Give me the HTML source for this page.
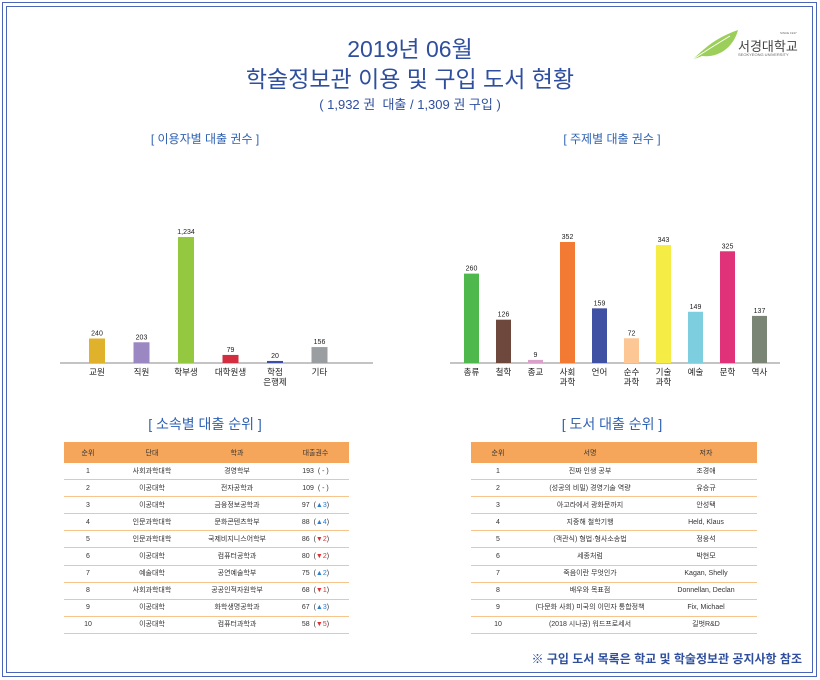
<!DOCTYPE html>
<html><head><meta charset="utf-8">
<style>
body{margin:0;width:820px;height:680px;background:#fff;font-family:"Liberation Sans","Noto Sans CJK KR",sans-serif;position:relative;overflow:hidden}
.b1{position:absolute;left:2px;top:2px;width:813px;height:673px;border:1.5px solid #4a66b8}
.b2{position:absolute;left:6px;top:6px;width:805px;height:665px;border:1.5px solid #4a66b8}
.t{position:absolute;left:0;width:820px;text-align:center;color:#2f4f9e}
.sec{position:absolute;color:#2f62b3;text-align:center}
table{position:absolute;border-collapse:collapse;font-size:7px;color:#333}
th{background:#f5a65b;height:21px;padding:0;font-weight:normal;color:#333}
td{height:16.1px;padding:0;border-bottom:1.5px solid #f8c48e;text-align:center;line-height:15px}
.up{color:#2a7fd0}.dn{color:#e03030}
</style></head><body>
<div class="b1"></div>
<div class="b2"></div>
<div class="t" style="top:30px;font-size:23px">2019년 06월</div>
<div class="t" style="top:60px;font-size:23px">학술정보관 이용 및 구입 도서 현황</div>
<div class="t" style="top:94px;font-size:13px">( 1,932 권&nbsp; 대출 / 1,309 권 구입 )</div>
<div style="position:absolute;left:690px;top:28px;width:120px;height:36px">
<svg width="50" height="34" viewBox="0 0 50 34"><path d="M2 32 C15 20 25 10 48 2 C44 18 30 30 12 28" fill="#9ccf5a"/><path d="M2 32 Q20 20 40 8" stroke="#fff" stroke-width="1" fill="none"/></svg>
<div style="position:absolute;left:48px;top:8px;font-size:13px;color:#444">서경대학교</div>
<div style="position:absolute;left:48px;top:24px;font-size:4px;color:#666">SEOKYEONG UNIVERSITY</div>
<div style="position:absolute;left:90px;top:3px;font-size:3px;color:#666">SINCE 1947</div>
</div>
<div class="sec" style="left:105px;top:130px;width:200px;font-size:12px">[ 이용자별 대출 권수 ]</div>
<div class="sec" style="left:512px;top:130px;width:200px;font-size:12px">[ 주제별 대출 권수 ]</div>
<svg id="c1" style="position:absolute;left:0;top:0" width="820" height="400"></svg>
<div class="sec" style="left:105px;top:414px;width:200px;font-size:14px">[ 소속별 대출 순위 ]</div>
<div class="sec" style="left:512px;top:414px;width:200px;font-size:14px">[ 도서 대출 순위 ]</div>
<table style="left:64px;top:442px;width:285px">
<tr><th style="width:48px">순위</th><th style="width:80px">단대</th><th style="width:90px">학과</th><th>대출권수</th></tr>
<tr><td>1</td><td>사회과학대학</td><td>경영학부</td><td>193 &nbsp;( - )</td></tr>
<tr><td>2</td><td>이공대학</td><td>전자공학과</td><td>109 &nbsp;( - )</td></tr>
<tr><td>3</td><td>이공대학</td><td>금융정보공학과</td><td>97 &nbsp;(<span class="up">▲3</span>)</td></tr>
<tr><td>4</td><td>인문과학대학</td><td>문화콘텐츠학부</td><td>88 &nbsp;(<span class="up">▲4</span>)</td></tr>
<tr><td>5</td><td>인문과학대학</td><td>국제비지니스어학부</td><td>86 &nbsp;(<span class="dn">▼2</span>)</td></tr>
<tr><td>6</td><td>이공대학</td><td>컴퓨터공학과</td><td>80 &nbsp;(<span class="dn">▼2</span>)</td></tr>
<tr><td>7</td><td>예술대학</td><td>공연예술학부</td><td>75 &nbsp;(<span class="up">▲2</span>)</td></tr>
<tr><td>8</td><td>사회과학대학</td><td>공공인적자원학부</td><td>68 &nbsp;(<span class="dn">▼1</span>)</td></tr>
<tr><td>9</td><td>이공대학</td><td>화학생명공학과</td><td>67 &nbsp;(<span class="up">▲3</span>)</td></tr>
<tr><td>10</td><td>이공대학</td><td>컴퓨터과학과</td><td>58 &nbsp;(<span class="dn">▼5</span>)</td></tr>
</table>
<table style="left:471px;top:442px;width:286px">
<tr><th style="width:54px">순위</th><th style="width:130px">서명</th><th>저자</th></tr>
<tr><td>1</td><td>진짜 인생 공부</td><td>조경애</td></tr>
<tr><td>2</td><td>(성공의 비밀) 경영기술 역량</td><td>유승규</td></tr>
<tr><td>3</td><td>아고라에서 광화문까지</td><td>안성택</td></tr>
<tr><td>4</td><td>지중해 철학기행</td><td>Held, Klaus</td></tr>
<tr><td>5</td><td>(객관식) 형법·형사소송법</td><td>정웅석</td></tr>
<tr><td>6</td><td>세종처럼</td><td>박현모</td></tr>
<tr><td>7</td><td>죽음이란 무엇인가</td><td>Kagan, Shelly</td></tr>
<tr><td>8</td><td>배우와 목표점</td><td>Donnellan, Declan</td></tr>
<tr><td>9</td><td>(다문화 사회) 미국의 이민자 통합정책</td><td>Fix, Michael</td></tr>
<tr><td>10</td><td>(2018 시나공) 워드프로세서</td><td>길벗R&amp;D</td></tr>
</table>
<div style="position:absolute;right:18px;top:650px;font-size:12px;font-weight:bold;color:#2f4f9e">※ 구입 도서 목록은 학교 및 학술정보관 공지사항 참조</div>
<script>
const userCats=["교원","직원","학부생","대학원생","학점\n은행제","기타"];
const userVals=[240,203,1234,79,20,156];
const userColors=["#e0b12a","#9b87c2","#94c840","#d22e40","#3a50a8","#9a9ea0"];
const subjCats=["총류","철학","종교","사회\n과학","언어","순수\n과학","기술\n과학","예술","문학","역사"];
const subjVals=[260,126,9,352,159,72,343,149,325,137];
const subjColors=["#4fb84c","#6e473d","#dca0cc","#f27a33","#3f51a3","#fdc795","#f5ec45","#7dcfdf","#df3278","#7a8576"];
const svg=document.getElementById('c1');
const NS="http://www.w3.org/2000/svg";
function mk(t,a){const e=document.createElementNS(NS,t);for(const k in a)e.setAttribute(k,a[k]);svg.appendChild(e);return e;}
function chart(cats,vals,cols,x0,step,bw,maxV,maxH,ax0,ax1,base,nm){
  const ax=mk('line',{x1:ax0,x2:ax1,y1:base,y2:base,stroke:'#888','stroke-width':1});
  
  
  const y=v=>v/maxV*maxH;
  cats.forEach((c,i)=>{
    const cx=x0+i*step,h=y(vals[i]);
    const r=mk('rect',{x:cx-bw/2,y:base-h,width:bw,height:h,fill:cols[i]});
    
    
    const t=mk('text',{x:cx,y:base-h-3,'text-anchor':'middle','font-size':7,fill:'#222'});
    t.textContent=vals[i].toLocaleString('en-US');
    
    
    c.split('\n').forEach((ln,j)=>{
      const l=mk('text',{x:cx,y:base+12+j*10,'text-anchor':'middle','font-size':8.5,fill:'#222'});
      l.textContent=ln;
      
      
    });
  });
}
chart(userCats,userVals,userColors,97,44.5,16,1234,126,60,373,363,'user');
chart(subjCats,subjVals,subjColors,471.5,32,15,352,121,450,780,363,'subject');
</script>
</body></html>
